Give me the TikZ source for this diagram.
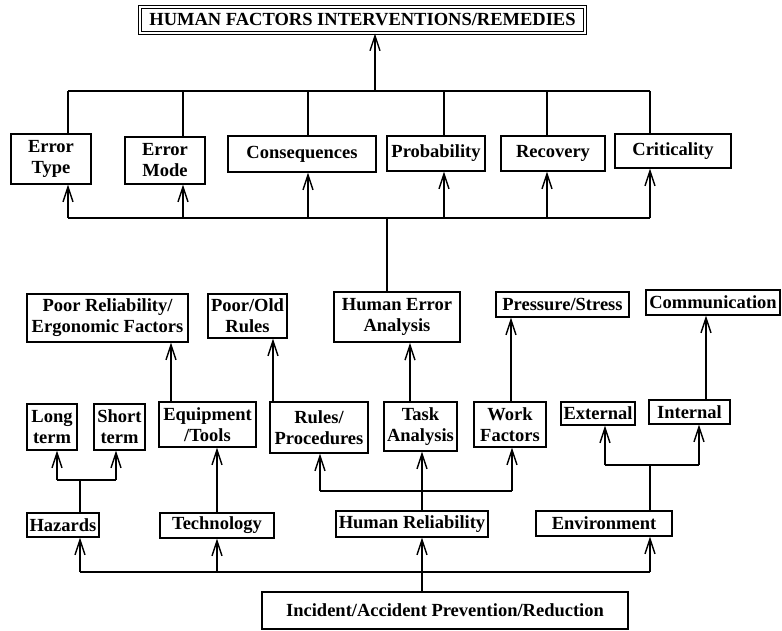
\documentclass[tikz,border=0pt]{standalone}
\usepackage{fontspec}
\setmainfont{Liberation Serif}
\usetikzlibrary{arrows.meta}

\tikzset{
  box/.style={draw, line width=1.3pt, inner sep=0pt, align=center,
    font=\fontsize{18.5}{21}\selectfont\bfseries},
  conn/.style={line width=1.6pt},
  arr/.style={conn, -{Straight Barb[length=15pt,width=10pt,line width=1.4pt]}}
}

\begin{document}
\begin{tikzpicture}[x=1pt, y=-1pt]
    \useasboundingbox (0,0) rectangle (782,631);
    % top
    \node[box, double, line width=1.1pt, double distance=1.4pt,
      minimum width=445pt, minimum height=26pt] (remedies) at (362.5,20) {HUMAN FACTORS INTERVENTIONS/REMEDIES};
    % analysis row
    \node[box, minimum width=80pt, minimum height=50pt] (errtype) at (51,159) {Error\\Type};
    \node[box, minimum width=80pt, minimum height=47pt] (errmode) at (165,160.5) {Error\\Mode};
    \node[box, minimum width=148pt, minimum height=36pt] (conseq) at (302,154) {Consequences};
    \node[box, minimum width=98pt, minimum height=35pt] (prob) at (436,153.5) {Probability};
    \node[box, minimum width=104pt, minimum height=35pt] (recov) at (553,153.5) {Recovery};
    \node[box, minimum width=116pt, minimum height=34pt] (crit) at (673,151) {Criticality};
    % outcome row
    \node[box, minimum width=161pt, minimum height=48pt] (poorrel) at (107.5,318) {Poor Reliability/\\Ergonomic Factors};
    \node[box, minimum width=79pt, minimum height=44pt] (poorold) at (247.5,316) {Poor/Old\\Rules};
    \node[box, line width=1.8pt, minimum width=126pt, minimum height=50pt] (hea) at (397,317) {Human Error\\Analysis};
    \node[box, minimum width=133pt, minimum height=25pt] (press) at (562.5,304.5) {Pressure/Stress};
    \node[box, minimum width=134pt, minimum height=25pt] (comm) at (713,302.5) {Communication};
    % factor row
    \node[box, minimum width=50pt, minimum height=46pt] (longt) at (52,427) {Long\\term};
    \node[box, minimum width=51pt, minimum height=46pt] (shortt) at (119.5,427) {Short\\term};
    \node[box, minimum width=97pt, minimum height=45pt] (equip) at (207.5,424.5) {Equipment\\/Tools};
    \node[box, minimum width=98pt, minimum height=51pt] (rules) at (319,427.5) {Rules/\\Procedures};
    \node[box, minimum width=73pt, minimum height=49pt] (task) at (420.5,426.5) {Task\\Analysis};
    \node[box, minimum width=72pt, minimum height=45pt] (work) at (510,424.5) {Work\\Factors};
    \node[box, minimum width=74pt, minimum height=23pt] (extern) at (598,413.5) {External};
    \node[box, minimum width=81pt, minimum height=24pt] (intern) at (689.5,412) {Internal};
    % area row
    \node[box, minimum width=72pt, minimum height=24pt] (hazards) at (63,525) {Hazards};
    \node[box, minimum width=114pt, minimum height=25pt] (techn) at (217,525.5) {Technology};
    \node[box, minimum width=152pt, minimum height=26pt] (humrel) at (412,524) {Human Reliability};
    \node[box, minimum width=136pt, minimum height=25pt] (environ) at (604,523.5) {Environment};
    % bottom
    \node[box, line width=2.6pt, minimum width=366pt, minimum height=37pt] (incident) at (445,610.5) {Incident/Accident Prevention/Reduction};

    % buses
    \coordinate (topbus) at (375,91);
    \coordinate (midbus) at (387,218);
    \coordinate (lowbus) at (422,572);
    \draw[conn] (68,91) -- (650,91);
    \draw[conn] (68,218) -- (650,218);
    \draw[arr] (topbus) -- (topbus |- remedies.south);
    \draw[conn] (hea.north -| midbus) -- (midbus);
    \foreach \n/\x in {errtype/68, errmode/183, conseq/308, prob/444, recov/547, crit/650} {
      \draw[conn] (\x,91) -- (\x,91 |- \n.north);
      \draw[arr] (\x,218) -- (\x,218 |- \n.south);
    }
    % factors to outcomes
    \draw[arr] (171,0 |- equip.north) -- (171,0 |- poorrel.south);
    \draw[arr] (273,0 |- rules.north) -- (273,0 |- poorold.south);
    \draw[arr] (410,0 |- task.north) -- (410,0 |- hea.south);
    \draw[arr] (511,0 |- work.north) -- (511,0 |- press.south);
    \draw[arr] (706,0 |- intern.north) -- (706,0 |- comm.south);
    % hazards
    \draw[conn] (80,0 |- hazards.north) -- (80,480);
    \draw[conn] (57,480) -- (116,480);
    \draw[arr] (57,480) -- (57,0 |- longt.south);
    \draw[arr] (116,480) -- (116,0 |- shortt.south);
    % technology
    \draw[arr] (techn.north) -- (equip.south -| techn.north);
    % human reliability
    \draw[arr] (humrel.north -| lowbus) -- (task.south -| lowbus);
    \draw[conn] (320,491) -- (512,491);
    \draw[arr] (320,491) -- (320,0 |- rules.south);
    \draw[arr] (512,491) -- (512,0 |- work.south);
    % environment
    \draw[conn] (650,0 |- environ.north) -- (650,465);
    \draw[conn] (605,465) -- (699,465);
    \draw[arr] (605,465) -- (605,0 |- extern.south);
    \draw[arr] (699,465) -- (699,0 |- intern.south);
    % prevention
    \draw[conn] (incident.north -| lowbus) -- (lowbus);
    \draw[conn] (80,572) -- (650,572);
    \foreach \n/\x in {hazards/80, techn/217, humrel/422, environ/650} {
      \draw[arr] (\x,572) -- (\x,0 |- \n.south);
    }
\end{tikzpicture}
\end{document}
